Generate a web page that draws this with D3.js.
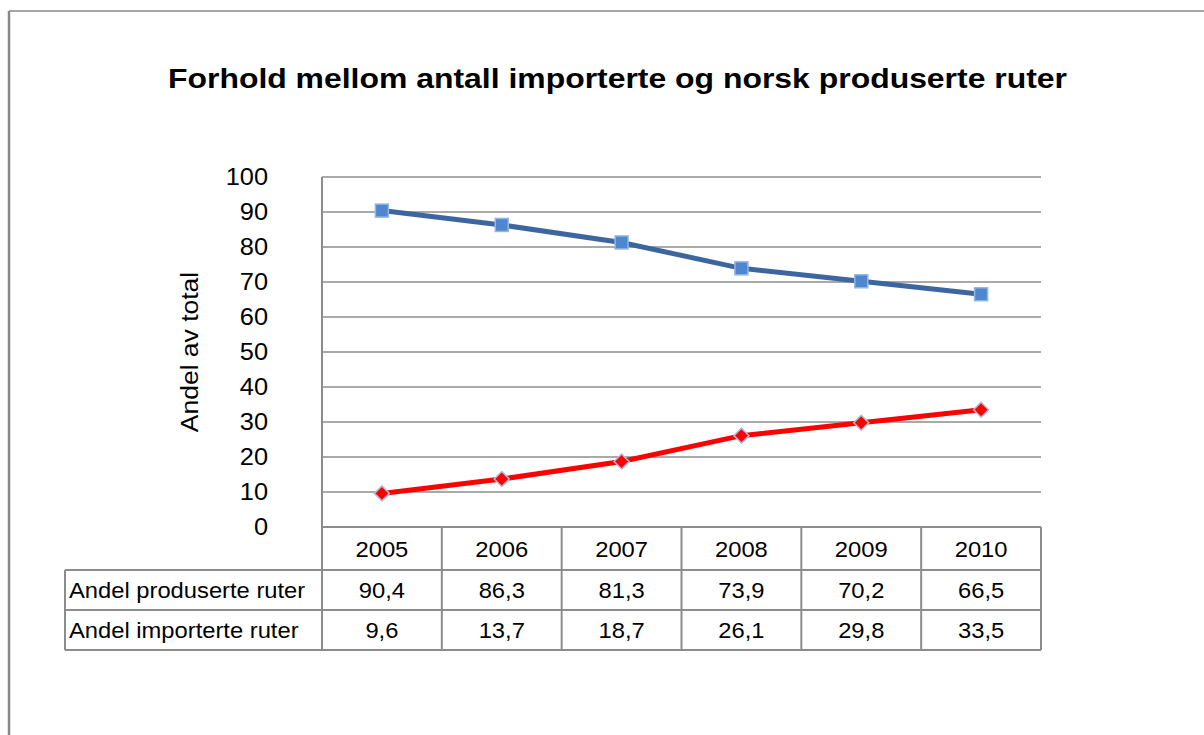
<!DOCTYPE html>
<html>
<head>
<meta charset="utf-8">
<script src="https://cdn.jsdelivr.net/npm/d3@7"></script>
<style>
  body { margin: 0; background: #fff; }
  svg { display: block; font-family: "Liberation Sans", Arial, sans-serif; }
</style>
</head>
<body>
<svg id="chart" width="1204" height="735"></svg>
<script>
// data
var years = ["2005", "2006", "2007", "2008", "2009", "2010"]
var produserte = [90.4, 86.3, 81.3, 73.9, 70.2, 66.5]
var importerte = [9.6, 13.7, 18.7, 26.1, 29.8, 33.5]
var seriesNames = ["Andel produserte ruter", "Andel importerte ruter"]
var yTicks = [0, 10, 20, 30, 40, 50, 60, 70, 80, 90, 100]

var svg = d3.select("#chart")
var stretch = 1.08   // the original text is drawn a bit wider than Arial

// place a text at (px, py), widened a little
function label(g, px, py, str, anchor, rot, size) {
    return g.append("text")
        .attr("transform", "translate(" + px + "," + py + ")" + (rot ? " rotate(" + rot + ")" : "") + " scale(" + stretch + ",1)")
        .attr("text-anchor", anchor || "start")
        .attr("dy", "0.35em")
        .attr("font-size", size || 22)
        .attr("fill", "#000")
        .text(str)
}

// outer frame (only top and left edges are visible)
svg.append("line").attr("x1", 9).attr("x2", 1204).attr("y1", 11).attr("y2", 11)
    .attr("stroke", "#888").attr("stroke-width", 1.5)
svg.append("line").attr("x1", 9).attr("x2", 9).attr("y1", 11).attr("y2", 735)
    .attr("stroke", "#888").attr("stroke-width", 2.5)

// title
svg.append("text")
    .attr("x", 168).attr("y", 88)
    .attr("font-size", 27).attr("font-weight", "bold")
    .attr("textLength", 899).attr("lengthAdjust", "spacingAndGlyphs")
    .text("Forhold mellom antall importerte og norsk produserte ruter")

var plotLeft = 322, plotRight = 1041, plotTop = 177, plotBottom = 527

var x = d3.scaleBand().domain(years).range([plotLeft, plotRight])
var y = d3.scaleLinear().domain([0, 100]).range([plotBottom, plotTop])
var cx = d => x(d) + x.bandwidth() / 2

// gridlines
svg.append("g")
    .selectAll("line")
    .data(yTicks)
    .enter()
    .append("line")
    .attr("x1", plotLeft).attr("x2", plotRight)
    .attr("y1", d => y(d)).attr("y2", d => y(d))
    .attr("stroke", "#8c8c8c").attr("stroke-width", 1.5)

// y axis tick labels
var yAxis = svg.append("g")
yTicks.forEach(function (t) {
    label(yAxis, 268, y(t), String(t), "end", 0, 23.5)
})

label(svg, 189, (plotTop + plotBottom) / 2, "Andel av total", "middle", -90, 24.5)

// lines
var line = d3.line()
    .x((d, i) => cx(years[i]))
    .y(d => y(d))

svg.append("path").datum(produserte)
    .attr("d", line).attr("fill", "none")
    .attr("stroke", "#3d66a0").attr("stroke-width", 5)
svg.append("path").datum(importerte)
    .attr("d", line).attr("fill", "none")
    .attr("stroke", "#ff0000").attr("stroke-width", 5)

// markers
svg.append("g").selectAll("rect")
    .data(produserte)
    .enter()
    .append("rect")
    .attr("x", (d, i) => cx(years[i]) - 6.5)
    .attr("y", d => y(d) - 6.5)
    .attr("width", 13).attr("height", 13)
    .attr("fill", "#4f86d0").attr("stroke", "#93b6e3").attr("stroke-width", 1.5)

svg.append("g").selectAll("path")
    .data(importerte)
    .enter()
    .append("path")
    .attr("transform", (d, i) => "translate(" + cx(years[i]) + "," + y(d) + ")")
    .attr("d", "M0,-7.5L7.5,0L0,7.5L-7.5,0Z")
    .attr("fill", "#ff0000").attr("stroke", "#a9bcd8").attr("stroke-width", 1.5)

// data table
var rowH = 40, headTop = 527, headBottom = 570
var tableLeft = 65
var tableBottom = headBottom + 2 * rowH
var grid = svg.append("g").attr("stroke", "#8c8c8c").attr("stroke-width", 2)

// horizontal table lines
grid.append("line").attr("x1", plotLeft).attr("x2", plotRight).attr("y1", headTop).attr("y2", headTop)
;[headBottom, headBottom + rowH, tableBottom].forEach(function (ly) {
    grid.append("line").attr("x1", tableLeft).attr("x2", plotRight).attr("y1", ly).attr("y2", ly)
})

// vertical table lines
grid.append("line").attr("x1", plotLeft).attr("x2", plotLeft).attr("y1", plotTop).attr("y2", tableBottom)
grid.append("line").attr("x1", tableLeft).attr("x2", tableLeft).attr("y1", headBottom).attr("y2", tableBottom)
grid.selectAll(".vcol")
    .data(years)
    .enter()
    .append("line")
    .attr("x1", d => x(d) + x.bandwidth()).attr("x2", d => x(d) + x.bandwidth())
    .attr("y1", headTop).attr("y2", tableBottom)

// header years
var cells = svg.append("g")
years.forEach(function (yr) {
    label(cells, cx(yr), (headTop + headBottom) / 2 + 1, yr, "middle")
})

var fmt = v => String(v).replace(".", ",")
;[produserte, importerte].forEach(function (vals, r) {
    var cy = headBottom + r * rowH + rowH / 2
    label(cells, 69, cy, seriesNames[r], "start")
    vals.forEach(function (v, i) {
        label(cells, cx(years[i]), cy, fmt(v), "middle")
    })
})
</script>
</body>
</html>
